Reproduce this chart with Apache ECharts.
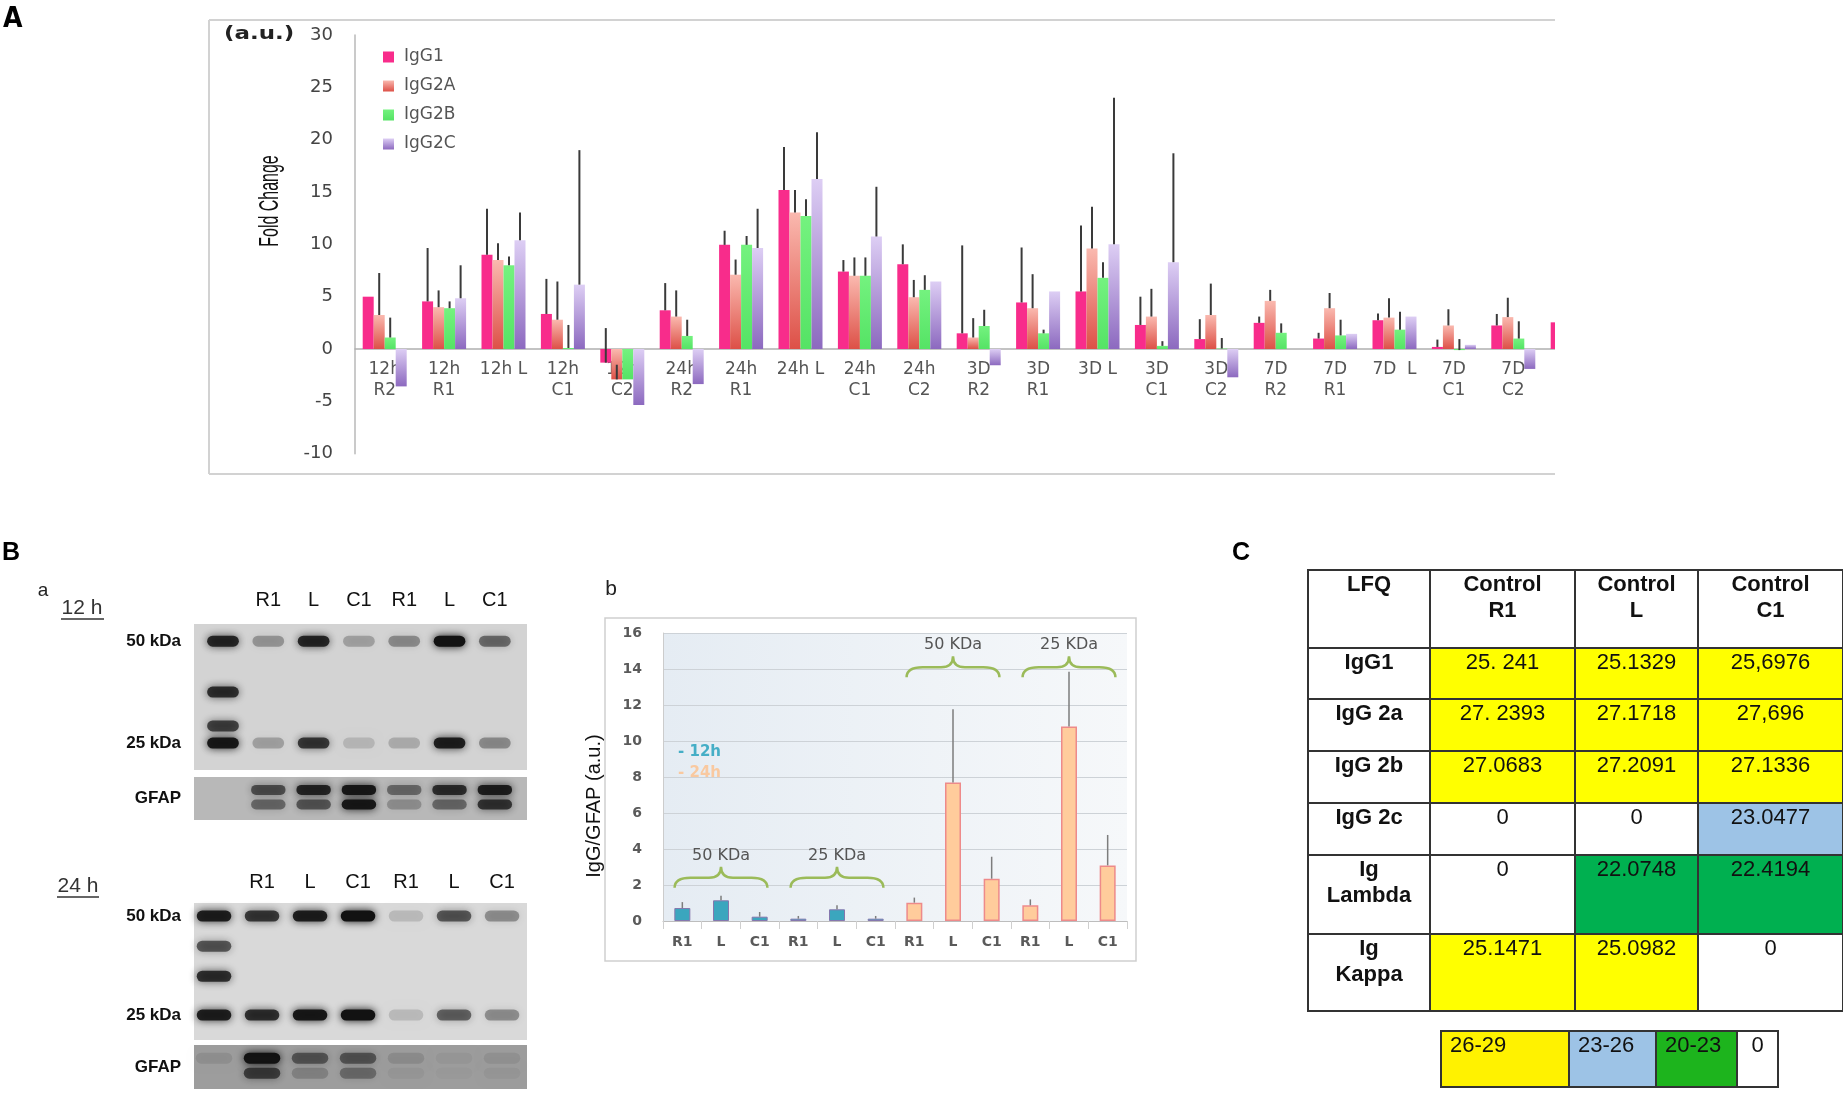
<!DOCTYPE html>
<html>
<head>
<meta charset="utf-8">
<title>IgG fold change, blots and LFQ table</title>
<script src="https://cdn.jsdelivr.net/npm/echarts@6.0.0/dist/echarts.min.js"></script>
<style>
  body { margin: 0; background: #fff; }
  #main { position: absolute; left: 0; top: 0; width: 1843px; height: 1099px; }
  #clipA { position: absolute; left: 0; top: 0; width: 1555px; height: 482px; overflow: hidden; }
  #chartA { width: 1660px; height: 482px; }
</style>
</head>
<body>
<div id="main"></div>
<div id="clipA"><div id="chartA"></div></div>
<script>
// ---- Panel A: fold change per time point / region ----
var foldCats = ['12h\nR2', '12h\nR1', '12h L', '12h\nC1', '12h\nC2',
                '24h\nR2', '24h\nR1', '24h L', '24h\nC1', '24h\nC2',
                '3D\nR2', '3D\nR1', '3D L', '3D\nC1', '3D\nC2',
                '7D\nR2', '7D\nR1', '7D  L', '7D\nC1', '7D\nC2', '14D\nR2'];
var igg1 = [5.0, 4.55, 9.0, 3.35, -1.3, 3.7, 9.95, 15.2, 7.4, 8.1, 1.5, 4.45, 5.5, 2.3, 0.95, 2.5, 1.0, 2.75, 0.2, 2.25, 2.55];
var igg1Top = [null, 9.65, 13.4, 6.7, 2.0, 6.3, 11.3, 19.3, 8.5, 10.0, 9.9, 9.7, 11.8, 5.0, 2.85, 3.1, 1.55, 3.4, 0.9, 3.35, 3.3];
var igg2a = [3.25, 4.0, 8.5, 2.8, -2.9, 3.1, 7.1, 13.05, 7.0, 4.95, 1.1, 3.9, 9.6, 3.1, 3.25, 4.6, 3.9, 3.0, 2.25, 3.05, null];
var igg2aTop = [7.26, 5.6, 10.1, 6.45, -1.5, 5.6, 8.55, 15.2, 8.75, 6.6, 2.95, 7.15, 13.6, 5.75, 6.25, 5.65, 5.35, 4.85, 3.8, 4.9, null];
var igg2b = [1.1, 3.9, 8.0, 0.1, -2.9, 1.25, 9.95, 12.7, 7.0, 5.65, 2.2, 1.5, 6.8, 0.3, 0.05, 1.55, 1.3, 1.85, -0.1, 1.0, null];
var igg2bTop = [3.0, 4.55, 8.85, 2.3, null, 2.8, 10.8, 14.3, 8.75, 7.05, 3.75, 1.85, 8.3, 0.75, 1.05, 2.45, 2.8, 3.55, 0.95, 2.65, null];
var igg2c = [-3.57, 4.85, 10.4, 6.15, -5.35, -3.35, 9.65, 16.25, 10.75, 6.45, -1.55, 5.5, 10.0, 8.3, -2.7, null, 1.45, 3.1, 0.4, -1.9, null];
var igg2cTop = [null, 8.0, 13.05, 19.0, null, null, 13.4, 20.7, 15.5, null, null, null, 24.0, 18.7, null, null, null, null, null, null, null];
var foldTicks = [-10, 30, 5];

// ---- Panel B a: western blots (band darkness 0..1) ----
var blotLanes = ['R1', 'L', 'C1', 'R1', 'L', 'C1'];
var marker12hKda = [50, 37.5, 29.2, 25];
var marker12hInk = [0.85, 0.8, 0.7, 0.95];
var ink50_12h = [0.3, 0.85, 0.25, 0.35, 1.0, 0.5];
var ink25_12h = [0.25, 0.75, 0.15, 0.2, 0.9, 0.35];
var gfapUp12h = [0, 0.6, 0.85, 0.95, 0.45, 0.8, 0.9];
var gfapLow12h = [0, 0.45, 0.55, 0.95, 0.25, 0.45, 0.75];
var marker24hKda = [50, 42.4, 34.8, 25];
var marker24hInk = [0.9, 0.6, 0.8, 0.9];
var ink50_24h = [0.75, 0.9, 1.0, 0.15, 0.6, 0.35];
var ink25_24h = [0.8, 0.95, 1.0, 0.15, 0.55, 0.35];
var gfapUp24h = [0.1, 1.0, 0.5, 0.5, 0.12, 0.05, 0.08];
var gfapLow24h = [0, 0.65, 0.2, 0.35, 0.05, 0.03, 0.05];
var gfapRows = [0.7, 0.36];

// ---- Panel B b: IgG/GFAP ----
var bLanes = ['R1', 'L', 'C1', 'R1', 'L', 'C1', 'R1', 'L', 'C1', 'R1', 'L', 'C1'];
var bMean12h = [0.72, 1.15, 0.24, 0.13, 0.65, 0.13];
var bTop12h = [1.05, 1.4, 0.5, 0.28, 0.87, 0.28];
var bMean24h = [1.02, 7.7, 2.35, 0.87, 10.8, 3.09];
var bTop24h = [1.3, 11.76, 3.57, 1.2, 13.85, 4.78];
var braceMid = [1, 4, 7, 10];
var braceY = [2.4, 2.4, 14.1, 14.1];
var braceText = ['50 KDa', '25 KDa', '50 KDa', '25 KDa'];

// ---- Panel C: LFQ table ----
var lfqCols = ['Control\nR1', 'Control\nL', 'Control\nC1'];
var lfqRows = ['IgG1', 'IgG 2a', 'IgG 2b', 'IgG 2c', 'Ig\nLambda', 'Ig\nKappa'];
var lfqText = [
  ['25. 241', '25.1329', '25,6976'],
  ['27. 2393', '27.1718', '27,696'],
  ['27.0683', '27.2091', '27.1336'],
  ['0', '0', '23.0477'],
  ['0', '22.0748', '22.4194'],
  ['25.1471', '25.0982', '0']
];
var keyText = ['26-29', '23-26', '20-23', '0'];
var keyFill = ['#FFF200', '#9DC3E6', '#1DB41D', '#FFFFFF'];

// layout helpers (fractions of the table box)
var colFr = [0, 122 / 535, 267 / 535, 390 / 535, 1];
var rowFr = [0, 78 / 441, 129 / 441, 181 / 441, 233 / 441, 285 / 441, 364 / 441, 1];
var keyFr = [0, 128 / 337, 215 / 337, 296 / 337, 1];

function grad(top, bottom) {
  return new echarts.graphic.LinearGradient(0, 0, 0, 1, [
    { offset: 0, color: top }, { offset: 1, color: bottom }
  ]);
}
function txt(s, x, y, font, fill, align, vAlign, extra) {
  var el = {
    type: 'text', x: x, y: y,
    style: { text: s, font: font, fill: fill, align: align, verticalAlign: vAlign,
             textAlign: align, textVerticalAlign: vAlign }
  };
  for (var k in extra) el[k] = extra[k];
  return el;
}

// ================= Chart A =================
var chartA = echarts.init(document.getElementById('chartA'));
var seriesNames = ['IgG1', 'IgG2A', 'IgG2B', 'IgG2C'];
var seriesVals = [igg1, igg2a, igg2b, igg2c];
var seriesTops = [igg1Top, igg2aTop, igg2bTop, igg2cTop];
var barColors = ['#F82C8B', grad('#FAB9AF', '#DD5047'), grad('#74F27F', '#55E365'), grad('#DDCEF4', '#8C69BF')];
var BAR_W = 11;
var GRID_A = { left: 355, top: 35, width: 1247.4, height: 418.7 };
// distance from the bottom of the plot up to the zero line
var zeroLift = GRID_A.height * (0 - foldTicks[0]) / (foldTicks[1] - foldTicks[0]);

var errA = [];
for (var s = 0; s < 4; s++) {
  for (var i = 0; i < foldCats.length; i++) {
    if (seriesVals[s][i] != null && seriesTops[s][i] != null) {
      errA.push([i, s, seriesVals[s][i], seriesTops[s][i]]);
    }
  }
}

var seriesA = seriesNames.map(function (name, k) {
  return {
    name: name, type: 'bar', data: seriesVals[k],
    barWidth: BAR_W, barGap: '0%',
    itemStyle: { color: barColors[k] }
  };
});
seriesA.push({
  type: 'custom', silent: true, z: 5,
  encode: { x: 0, y: [2, 3] },
  data: errA,
  renderItem: function (params, api) {
    var a = api.coord([api.value(0), api.value(2)]);
    var b = api.coord([api.value(0), api.value(3)]);
    var x = a[0] + (api.value(1) - 1.5) * BAR_W;
    return { type: 'line', shape: { x1: x, y1: a[1], x2: x, y2: b[1] },
             style: { stroke: '#3a3a3a', lineWidth: 2 } };
  }
});

chartA.setOption({
  animation: false,
  grid: GRID_A,
  legend: {
    orient: 'vertical', left: 378, top: 43,
    itemWidth: 11, itemHeight: 11, itemGap: 11,
    icon: 'rect',
    data: seriesNames,
    textStyle: { fontSize: 17, color: '#555', fontFamily: 'DejaVu Sans', lineHeight: 18, padding: [0, 0, 0, 5] }
  },
  xAxis: {
    type: 'category', data: foldCats,
    offset: -zeroLift,
    axisLine: { onZero: false, lineStyle: { color: '#b0b0b0', width: 1.5 } },
    axisTick: { show: false },
    axisLabel: { interval: 0, fontSize: 17, color: '#555', fontFamily: 'DejaVu Sans', lineHeight: 21, margin: 10 }
  },
  yAxis: {
    type: 'value', min: foldTicks[0], max: foldTicks[1], interval: foldTicks[2],
    axisLine: { show: true, lineStyle: { color: '#b8b8b8', width: 1.5 } },
    axisTick: { show: false },
    splitLine: { show: false },
    axisLabel: { fontSize: 18, color: '#444', fontFamily: 'DejaVu Sans', margin: 22 }
  },
  graphic: [
    txt('A', 3, 6, 'bold 28px "Liberation Sans Narrow", "DejaVu Sans Condensed", sans-serif', '#000', 'left', 'top'),
    { type: 'line', shape: { x1: 209, y1: 20, x2: 1560, y2: 20 }, style: { stroke: '#d2d2d2', lineWidth: 2 } },
    { type: 'line', shape: { x1: 209, y1: 20, x2: 209, y2: 474 }, style: { stroke: '#d2d2d2', lineWidth: 2 } },
    { type: 'line', shape: { x1: 209, y1: 474, x2: 1560, y2: 474 }, style: { stroke: '#d2d2d2', lineWidth: 2 } },
    txt('(a.u.)', 224, 35, 'bold 17px "DejaVu Sans", sans-serif', '#222', 'left', 'middle', { scaleX: 1.35 }),
    txt('Fold Change', 270, 201, '28px "Liberation Sans", Arial, sans-serif', '#111', 'center', 'middle',
        { rotation: Math.PI / 2, scaleX: 0.57 })
  ],
  series: seriesA
});

// ================= Main chart (B and C) =================
var chart = echarts.init(document.getElementById('main'));

function bandItem(h, wFrac) {
  return function (params, api) {
    var p = api.coord([api.value(0), api.value(1)]);
    var w = api.size([1, 0])[0] * wFrac;
    var a = api.value(2);
    return {
      type: 'rect',
      shape: { x: p[0] - w / 2, y: p[1] - h / 2, width: w, height: h, r: h / 2 },
      style: { fill: 'rgba(18,18,18,' + a + ')', shadowBlur: 8, shadowColor: 'rgba(18,18,18,' + a + ')' }
    };
  };
}
function blotData(markKda, markInk, ink50, ink25) {
  var out = [];
  markKda.forEach(function (k, j) { out.push([0, k, markInk[j]]); });
  ink50.forEach(function (v, j) { out.push([j + 1, 50, v]); });
  ink25.forEach(function (v, j) { out.push([j + 1, 25, v]); });
  return out;
}
function gfapData(up, low) {
  var out = [];
  up.forEach(function (v, j) { if (v > 0) out.push([j, gfapRows[0], v]); });
  low.forEach(function (v, j) { if (v > 0) out.push([j, gfapRows[1], v]); });
  return out;
}

var errB = [];
bMean12h.forEach(function (v, j) { errB.push([j, v, bTop12h[j]]); });
bMean24h.forEach(function (v, j) { errB.push([j + 6, v, bTop24h[j]]); });
var empty6 = ['-', '-', '-', '-', '-', '-'];

// table cells
var cellData = [], cellText = [], cellFill = [], cellBold = [];
function addCell(c, r, t, fill, bold) {
  cellData.push([c, r]); cellText.push(t); cellFill.push(fill); cellBold.push(bold);
}
function lfqColor(t) {
  var v = parseFloat(t.replace(/\s/g, '').replace(',', '.'));
  if (v === 0) return '#FFFFFF';
  if (v < 23) return '#00B050';
  if (v < 25) return '#9DC3E6';
  return '#FFFF00';
}
addCell(0, 0, 'LFQ', '#FFFFFF', true);
lfqCols.forEach(function (h, j) { addCell(j + 1, 0, h, '#FFFFFF', true); });
lfqRows.forEach(function (name, r) {
  addCell(0, r + 1, name, '#FFFFFF', true);
  lfqText[r].forEach(function (t, j) { addCell(j + 1, r + 1, t, lfqColor(t), false); });
});

var laneAxisLabel = {
  customValues: [1, 2, 3, 4, 5, 6],
  formatter: function (v) { return blotLanes[Math.round(v) - 1]; },
  fontSize: 20, color: '#111', fontFamily: 'Liberation Sans'
};
var kdaAxisLabel = {
  customValues: [50, 25],
  formatter: function (v) { return v + ' kDa'; },
  fontSize: 17, fontWeight: 'bold', color: '#111', fontFamily: 'Liberation Sans', margin: 13
};
var gfapAxisLabel = {
  customValues: [0.5],
  formatter: function () { return 'GFAP'; },
  fontSize: 17, fontWeight: 'bold', color: '#111', fontFamily: 'Liberation Sans', margin: 13
};
var bare = { axisLine: { show: false }, axisTick: { show: false }, splitLine: { show: false } };
function axis(o) { var r = {}; for (var k in bare) r[k] = bare[k]; for (var q in o) r[q] = o[q]; return r; }

chart.setOption({
  animation: false,
  grid: [
    { left: 663, top: 633, width: 464, height: 288, show: true, borderWidth: 0,
      backgroundColor: new echarts.graphic.LinearGradient(0, 0, 1, 0, [
        { offset: 0, color: '#E5ECF3' }, { offset: 1, color: '#F6F8FA' }]) },
    { left: 194, top: 624, width: 333, height: 146, show: true, borderWidth: 0, backgroundColor: '#d3d3d3' },
    { left: 194, top: 777, width: 333, height: 43, show: true, borderWidth: 0, backgroundColor: '#b8b8b8' },
    { left: 194, top: 903, width: 333, height: 137, show: true, borderWidth: 0, backgroundColor: '#d9d9d9' },
    { left: 194, top: 1045, width: 333, height: 44, show: true, borderWidth: 0, backgroundColor: '#9d9d9d' },
    { left: 1308, top: 570, width: 535, height: 441 },
    { left: 1441, top: 1031, width: 337, height: 56 }
  ],
  xAxis: [
    { gridIndex: 0, type: 'category', data: bLanes,
      axisLine: { lineStyle: { color: '#bdbdbd' } },
      axisTick: { show: true, length: 8, lineStyle: { color: '#cfcfcf' } },
      axisLabel: { fontSize: 14, fontWeight: 'bold', color: '#5a5a5a', fontFamily: 'DejaVu Sans', margin: 14 } },
    axis({ gridIndex: 1, type: 'value', min: -0.64, max: 6.71, position: 'top',
      axisLabel: Object.assign({ margin: 14 }, laneAxisLabel) }),
    { gridIndex: 2, type: 'value', min: -0.64, max: 6.71, show: false },
    axis({ gridIndex: 3, type: 'value', min: -0.417, max: 6.52, position: 'top',
      axisLabel: Object.assign({ margin: 11 }, laneAxisLabel) }),
    { gridIndex: 4, type: 'value', min: -0.417, max: 6.52, show: false },
    { gridIndex: 5, type: 'value', min: 0, max: 1, show: false },
    { gridIndex: 6, type: 'value', min: 0, max: 1, show: false }
  ],
  yAxis: [
    { gridIndex: 0, type: 'value', min: 0, max: 16, interval: 2,
      axisLine: { show: true, lineStyle: { color: '#cccccc' } },
      axisTick: { show: false },
      splitLine: { lineStyle: { color: '#cdd2d7', width: 1.2 } },
      axisLabel: { fontSize: 14, fontWeight: 'bold', color: '#5a5a5a', fontFamily: 'DejaVu Sans', margin: 21 } },
    axis({ gridIndex: 1, type: 'value', min: 18.4, max: 54.2, axisLabel: kdaAxisLabel }),
    axis({ gridIndex: 2, type: 'value', min: 0, max: 1, axisLabel: gfapAxisLabel }),
    axis({ gridIndex: 3, type: 'value', min: 18.7, max: 53.3, axisLabel: kdaAxisLabel }),
    axis({ gridIndex: 4, type: 'value', min: 0, max: 1, axisLabel: gfapAxisLabel }),
    { gridIndex: 5, type: 'value', min: 0, max: 1, inverse: true, show: false },
    { gridIndex: 6, type: 'value', min: 0, max: 1, inverse: true, show: false }
  ],
  graphic: [
    txt('B', 2, 541, 'bold 25px "Liberation Sans", Arial, sans-serif', '#000', 'left', 'top'),
    txt('C', 1241, 553, 'bold 25px "Liberation Sans", Arial, sans-serif', '#000', 'center', 'middle'),
    txt('a', 43, 591, '19px "Liberation Sans", Arial, sans-serif', '#222', 'center', 'middle'),
    txt('b', 611, 589, '21px "Liberation Sans", Arial, sans-serif', '#222', 'center', 'middle'),
    txt('12 h', 82, 608, '21px "Liberation Sans", Arial, sans-serif', '#333', 'center', 'middle'),
    { type: 'line', shape: { x1: 61, y1: 619, x2: 104, y2: 619 }, style: { stroke: '#333', lineWidth: 1.5 } },
    txt('24 h', 78, 886, '21px "Liberation Sans", Arial, sans-serif', '#333', 'center', 'middle'),
    { type: 'line', shape: { x1: 57, y1: 897, x2: 99, y2: 897 }, style: { stroke: '#333', lineWidth: 1.5 } },
    { type: 'rect', shape: { x: 605, y: 618, width: 531, height: 343 },
      style: { fill: null, stroke: '#cfcfcf', lineWidth: 1.5 } },
    txt('IgG/GFAP (a.u.)', 594, 806, '20px "Liberation Sans", Arial, sans-serif', '#111', 'center', 'middle',
        { rotation: Math.PI / 2 }),
    txt('- 12h', 678, 752, 'bold 15px "DejaVu Sans", sans-serif', '#45AEC6', 'left', 'middle'),
    txt('- 24h', 678, 773, 'bold 15px "DejaVu Sans", sans-serif', '#F9C9A0', 'left', 'middle')
  ],
  series: [
    { name: '12h', type: 'bar', xAxisIndex: 0, yAxisIndex: 0, barWidth: 16, barGap: '-100%',
      data: bMean12h.concat(empty6),
      itemStyle: { color: '#3BA6BE', borderColor: '#8577AE', borderWidth: 1 } },
    { name: '24h', type: 'bar', xAxisIndex: 0, yAxisIndex: 0, barWidth: 16, barGap: '-100%',
      data: empty6.concat(bMean24h),
      itemStyle: { color: '#FFCC9C', borderColor: '#EE8A8A', borderWidth: 1.5 } },
    { type: 'custom', xAxisIndex: 0, yAxisIndex: 0, silent: true, z: 5,
      encode: { x: 0, y: [1, 2] }, data: errB,
      renderItem: function (params, api) {
        var a = api.coord([api.value(0), api.value(1)]);
        var b = api.coord([api.value(0), api.value(2)]);
        return { type: 'line', shape: { x1: a[0], y1: a[1], x2: b[0], y2: b[1] },
                 style: { stroke: '#7d7d7d', lineWidth: 1.5 } };
      } },
    { type: 'custom', xAxisIndex: 0, yAxisIndex: 0, silent: true, z: 6,
      encode: { x: 0, y: 1 },
      data: braceMid.map(function (m, j) { return [m, braceY[j]]; }),
      renderItem: function (params, api) {
        var p = api.coord([api.value(0), api.value(1)]);
        var w = api.size([1, 0])[0] * 1.2;
        var cx = p[0], y = p[1];
        var d = 'M' + (cx - w) + ' ' + (y + 10) +
          ' Q' + (cx - w) + ' ' + y + ' ' + (cx - w + 16) + ' ' + y +
          ' L' + (cx - 12) + ' ' + y +
          ' Q' + cx + ' ' + y + ' ' + cx + ' ' + (y - 11) +
          ' Q' + cx + ' ' + y + ' ' + (cx + 12) + ' ' + y +
          ' L' + (cx + w - 16) + ' ' + y +
          ' Q' + (cx + w) + ' ' + y + ' ' + (cx + w) + ' ' + (y + 10);
        return { type: 'group', children: [
          { type: 'path', shape: { pathData: d }, style: { fill: null, stroke: '#9BBB59', lineWidth: 2.5 } },
          { type: 'text', style: { text: braceText[params.dataIndex], x: cx, y: y - 22,
              font: '16px "DejaVu Sans", sans-serif', fill: '#555',
              align: 'center', verticalAlign: 'middle', textAlign: 'center', textVerticalAlign: 'middle' } }
        ] };
      } },
    { type: 'custom', xAxisIndex: 1, yAxisIndex: 1, silent: true,
      encode: { x: 0, y: 1 }, data: blotData(marker12hKda, marker12hInk, ink50_12h, ink25_12h),
      renderItem: bandItem(11, 0.7) },
    { type: 'custom', xAxisIndex: 2, yAxisIndex: 2, silent: true,
      encode: { x: 0, y: 1 }, data: gfapData(gfapUp12h, gfapLow12h),
      renderItem: bandItem(10, 0.76) },
    { type: 'custom', xAxisIndex: 3, yAxisIndex: 3, silent: true,
      encode: { x: 0, y: 1 }, data: blotData(marker24hKda, marker24hInk, ink50_24h, ink25_24h),
      renderItem: bandItem(11, 0.72) },
    { type: 'custom', xAxisIndex: 4, yAxisIndex: 4, silent: true,
      encode: { x: 0, y: 1 }, data: gfapData(gfapUp24h, gfapLow24h),
      renderItem: bandItem(11, 0.76) },
    { type: 'custom', xAxisIndex: 5, yAxisIndex: 5, silent: true,
      encode: { x: 0, y: 1 }, data: cellData,
      renderItem: function (params, api) {
        var c = api.value(0), r = api.value(1), k = params.dataIndex;
        var p0 = api.coord([colFr[c], rowFr[r]]);
        var p1 = api.coord([colFr[c + 1], rowFr[r + 1]]);
        return { type: 'group', children: [
          { type: 'rect', shape: { x: p0[0], y: p0[1], width: p1[0] - p0[0], height: p1[1] - p0[1] },
            style: { fill: cellFill[k], stroke: '#333', lineWidth: 2 } },
          { type: 'text', style: { text: cellText[k], x: (p0[0] + p1[0]) / 2, y: p0[1] + 2,
              font: (cellBold[k] ? 'bold ' : '') + '22px "Liberation Sans", Arial, sans-serif',
              fill: '#111', lineHeight: 26,
              align: 'center', verticalAlign: 'top', textAlign: 'center', textVerticalAlign: 'top' } }
        ] };
      } },
    { type: 'custom', xAxisIndex: 6, yAxisIndex: 6, silent: true,
      encode: { x: 0, y: 1 }, data: keyText.map(function (t, j) { return [j, 0]; }),
      renderItem: function (params, api) {
        var c = api.value(0), k = params.dataIndex;
        var p0 = api.coord([keyFr[c], 0]);
        var p1 = api.coord([keyFr[c + 1], 1]);
        var single = keyText[k].length === 1;
        return { type: 'group', children: [
          { type: 'rect', shape: { x: p0[0], y: p0[1], width: p1[0] - p0[0], height: p1[1] - p0[1] },
            style: { fill: keyFill[k], stroke: '#333', lineWidth: 2 } },
          { type: 'text', style: { text: keyText[k],
              x: single ? (p0[0] + p1[0]) / 2 : p0[0] + 9, y: p0[1] + 2,
              font: '22px "Liberation Sans", Arial, sans-serif', fill: '#111', lineHeight: 26,
              align: single ? 'center' : 'left', verticalAlign: 'top',
              textAlign: single ? 'center' : 'left', textVerticalAlign: 'top' } }
        ] };
      } }
  ]
});

window.addEventListener('resize', function () {
  chartA.resize();
  chart.resize();
});
</script>
</body>
</html>
